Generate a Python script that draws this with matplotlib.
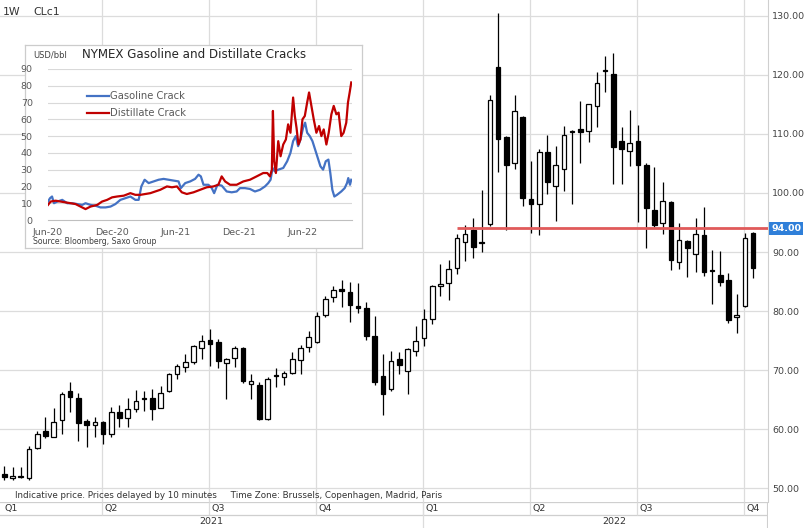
import matplotlib
matplotlib.use('Agg')
import matplotlib.pyplot as plt
import matplotlib.transforms as mtransforms
from matplotlib.lines import Line2D
import numpy as np

# ---------------- data: weekly CLc1 candles (Jan 2021 - Oct 2022) ----------------
opens = [52.4, 51.7, 51.8, 51.7, 56.8, 59.7, 58.7, 61.6, 66.5, 65.3,
         61.4, 60.7, 61.2, 59.1, 62.8, 61.9, 63.4, 65.3, 65.3, 63.6,
         66.4, 69.3, 70.5, 71.4, 73.8, 75.1, 74.7, 71.2, 72.0, 73.8,
         67.6, 67.5, 61.7, 69.2, 68.8, 69.5, 71.7, 73.9, 74.8, 79.4,
         82.3, 83.8, 83.3, 80.9, 80.5, 75.7, 69.0, 66.7, 71.9, 69.8,
         73.3, 75.4, 78.7, 84.2, 84.8, 87.3, 91.7, 93.8, 91.7, 94.8,
         121.4, 109.5, 105.0, 112.8, 98.9, 98.2, 106.9, 101.2, 104.0, 110.3,
         110.9, 110.5, 114.8, 120.8, 120.2, 108.8, 107.2, 108.8, 104.8, 97.2,
         94.9, 98.4, 88.3, 91.8, 89.6, 92.8, 86.9, 86.1, 85.2, 78.9,
         80.8, 93.3]
highs = [53.8, 53.6, 53.5, 57.2, 59.7, 62.1, 63.6, 66.2, 67.9, 66.1,
         61.7, 62.1, 61.3, 63.8, 64.1, 65.3, 66.6, 66.5, 66.8, 67.3,
         69.5, 71.0, 72.7, 74.3, 76.0, 76.9, 75.3, 72.0, 74.1, 73.9,
         69.3, 67.9, 68.8, 70.4, 69.9, 73.0, 74.3, 76.6, 79.9, 82.5,
         84.2, 85.3, 84.9, 84.8, 81.6, 79.1, 72.7, 73.3, 73.0, 73.8,
         77.4, 80.4, 84.4, 87.9, 88.7, 93.1, 94.5, 95.7, 100.5, 116.6,
         130.5, 109.6, 116.6, 113.0, 105.5, 107.5, 109.8, 108.0, 111.3, 110.6,
         115.6, 115.1, 120.5, 123.2, 123.8, 111.2, 114.0, 111.5, 105.0, 104.4,
         101.9, 98.6, 95.0, 92.0, 95.7, 97.6, 90.3, 90.1, 86.5, 82.8,
         93.2, 93.4]
lows = [51.3, 51.3, 51.7, 51.4, 56.6, 58.4, 58.6, 59.1, 62.9, 58.0,
        57.0, 58.7, 57.5, 58.6, 60.4, 60.4, 62.8, 63.1, 61.5, 63.5,
        66.2, 68.4, 69.6, 71.1, 71.8, 70.6, 70.4, 65.1, 70.5, 67.8,
        65.1, 61.5, 61.5, 67.1, 67.4, 69.4, 69.4, 73.0, 74.6, 79.0,
        81.5, 80.6, 78.1, 79.6, 75.1, 67.4, 62.4, 66.5, 69.3, 66.0,
        72.4, 74.1, 77.8, 82.6, 81.8, 86.2, 88.4, 89.0, 90.0, 94.4,
        103.6, 93.7, 104.1, 97.8, 93.3, 92.9, 99.9, 95.3, 100.3, 98.2,
        105.1, 108.7, 111.2, 117.1, 101.6, 101.6, 104.6, 95.1, 90.6, 94.2,
        93.1, 86.9, 87.2, 85.7, 86.6, 86.0, 81.2, 84.2, 77.9, 76.2,
        80.6, 85.6]
closes = [51.9, 52.1, 51.9, 56.6, 59.2, 58.9, 61.2, 65.9, 65.4, 61.1,
          60.7, 61.2, 59.1, 62.9, 61.9, 63.4, 64.8, 65.1, 63.4, 66.1,
          69.3, 70.7, 71.4, 74.0, 74.9, 74.4, 71.5, 71.9, 73.8, 68.1,
          68.1, 61.7, 68.5, 69.0, 69.5, 71.8, 73.8, 75.6, 79.2, 82.1,
          83.6, 83.4, 81.1, 80.5, 75.7, 67.9, 66.0, 71.5, 70.8, 73.6,
          75.0, 78.7, 84.2, 84.6, 87.2, 92.3, 93.0, 90.9, 91.5, 115.7,
          109.2, 104.7, 113.9, 99.2, 98.1, 106.9, 101.9, 104.7, 109.8, 110.5,
          110.3, 115.0, 118.7, 120.6, 107.8, 107.5, 108.4, 104.7, 97.5, 94.5,
          98.6, 88.7, 92.0, 90.6, 93.0, 86.6, 86.7, 84.9, 78.4, 79.4,
          92.4, 87.3]

quarter_start_week = [-1, 12, 25, 38, 51, 64, 77, 90]
quarter_labels = ['Q1', 'Q2', 'Q3', 'Q4', 'Q1', 'Q2', 'Q3', 'Q4']
year_labels = ['2021', '2022']
year_start_week = [-1, 51]
price_ticks = [50, 60, 70, 80, 90, 100, 110, 120, 130]
ref_level = 94.0
ref_start_week = 55
symbol_text = ['1W', 'CLc1']
footer_text = 'Indicative price. Prices delayed by 10 minutes     Time Zone: Brussels, Copenhagen, Madrid, Paris'

# ---------------- data: inset (NYMEX cracks, months since Jun-2020) ----------------
dist_months = [0.00, 0.25, 0.72, 1.19, 1.66, 2.13, 2.59, 3.06, 3.53, 4.00,
               4.63, 5.09, 5.56, 6.03, 6.50, 7.13, 7.75, 8.22, 8.69, 9.16,
               9.63, 10.09, 10.56, 11.19, 11.66, 12.13, 12.59, 13.06, 13.69, 14.31,
               14.94, 15.56, 16.03, 16.34, 16.66, 17.13, 17.75, 18.38, 19.00, 19.63,
               20.25, 20.63, 20.88, 21.06, 21.16, 21.28, 21.44, 21.66, 21.88, 22.13,
               22.38, 22.59, 22.81, 23.06, 23.22, 23.38, 23.56, 23.75, 23.94, 24.16,
               24.38, 24.56, 24.78, 25.00, 25.25, 25.50, 25.72, 25.94, 26.19, 26.41,
               26.66, 26.88, 27.13, 27.34, 27.59, 27.81, 28.06, 28.22, 28.38, 28.53]
dist_crack = [9, 11, 11.5, 11, 10.5, 10, 9.5, 8, 6.5, 8,
              9, 11, 12, 13.5, 14, 14.5, 16, 15, 15, 15.5,
              16, 17, 18, 20, 19.5, 20, 16.5, 15.5, 16.5, 18,
              19.5, 20, 21, 26, 23, 21, 21, 23, 24, 26,
              28, 28, 26, 30, 65, 35, 28, 47, 38, 45,
              48, 57, 52, 73, 62, 55, 45, 48, 60, 62,
              70, 76, 68, 60, 52, 56, 50, 54, 45, 52,
              63, 68, 63, 64, 50, 52, 58, 70, 76, 82]
gas_months = [0.00, 0.19, 0.38, 0.56, 0.88, 1.34, 1.81, 2.28, 2.75, 3.22,
              3.53, 4.00, 4.47, 4.94, 5.41, 5.88, 6.34, 6.81, 7.28, 7.75,
              8.22, 8.53, 8.78, 9.09, 9.47, 9.94, 10.41, 10.88, 11.34, 11.81,
              12.28, 12.50, 12.91, 13.38, 13.84, 14.16, 14.38, 14.63, 15.09, 15.41,
              15.63, 15.94, 16.34, 16.81, 17.28, 17.75, 18.06, 18.53, 19.00, 19.47,
              19.94, 20.41, 20.72, 20.94, 21.13, 21.34, 21.66, 22.13, 22.50, 22.81,
              23.06, 23.31, 23.53, 23.75, 24.00, 24.19, 24.38, 24.63, 24.88, 25.13,
              25.38, 25.63, 25.88, 26.13, 26.38, 26.56, 26.75, 26.94, 27.19, 27.59,
              27.91, 28.13, 28.25, 28.41, 28.53]
gas_crack = [11, 13, 14, 10, 11, 12, 10, 10, 9.5, 9,
             10, 9, 8.5, 7.5, 7.5, 8, 9.5, 12, 13, 14,
             12, 12, 20, 24, 22, 23, 24, 24.5, 24, 23.5,
             23, 19, 22, 23, 24.5, 27, 26, 21, 21, 19,
             16, 21, 20.5, 17, 16.5, 17, 19, 19, 18.5, 17,
             18, 20, 22, 24, 31, 29, 30, 31, 35, 40,
             47, 50, 44, 48, 55, 58, 52, 50, 47, 42,
             37, 32, 30, 35, 36, 28, 18, 14, 15, 17,
             19, 22, 25, 21, 24]
inset_month_ticks = [0, 6, 12, 18, 24]
inset_month_labels = ['Jun-20', 'Dec-20', 'Jun-21', 'Dec-21', 'Jun-22']
inset_value_ticks = [0, 10, 20, 30, 40, 50, 60, 70, 80, 90]
inset_title = 'NYMEX Gasoline and Distillate Cracks'
inset_unit = 'USD/bbl'
inset_source = 'Source: Bloomberg, Saxo Group'
series_names = ['Gasoline Crack', 'Distillate Crack']

# ---------------- layout ----------------
W, H, DPI = 806, 528, 100
GRID = '#dcdcdc'
TXT = '#444444'
plt.rcParams['font.family'] = ['DejaVu Sans']

fig = plt.figure(figsize=(W / DPI, H / DPI), dpi=DPI)
fig.patch.set_facecolor('white')


def rect(x0, y0, x1, y1):
    return [x0 / W, 1 - y1 / H, (x1 - x0) / W, (y1 - y0) / H]


ax = fig.add_axes(rect(0, 0, 768, 502))
ax.set_facecolor('white')
ax.set_xlim(-0.52, 92.8)
ax.set_ylim(47.63, 132.71)

n = len(opens)
x = np.arange(n)
o = np.array(opens); c = np.array(closes); hi = np.array(highs); lo = np.array(lows)

# grid
for v in price_ticks:
    ax.axhline(v, color=GRID, lw=0.9, zorder=0)
q_pos = np.array(quarter_start_week) - 0.13
for q in q_pos[1:]:
    ax.axvline(q, color=GRID, lw=0.9, zorder=0)

# wicks
ax.vlines(x, lo, hi, color='black', lw=0.9, zorder=2)
# bodies
up = c >= o
bottom = np.minimum(o, c)
height = np.maximum(np.abs(c - o), 0.18)
ax.bar(x[up], height[up], bottom=bottom[up], width=0.56, facecolor='white',
       edgecolor='black', linewidth=0.9, zorder=3)
ax.bar(x[~up], height[~up], bottom=bottom[~up], width=0.56, facecolor='black',
       edgecolor='black', linewidth=0.9, zorder=3)

# reference line
ax.hlines(ref_level, ref_start_week, 92.8, color='#e05a5a', lw=2.0, zorder=4)

# axis on right
ax.yaxis.tick_right()
ax.set_yticks(price_ticks)
ax.set_yticklabels([f'{v:.2f}' for v in price_ticks])
ax.tick_params(axis='y', length=0, pad=3, labelsize=6.8, labelcolor=TXT)
ax.set_xticks([])
for s in ['top', 'left', 'bottom']:
    ax.spines[s].set_visible(False)
ax.spines['right'].set_color('#cfcfcf')

trans = mtransforms.blended_transform_factory(ax.transAxes, ax.transData)
ax.text(1.004, ref_level, f'{ref_level:.2f}', transform=trans, ha='left', va='center',
        fontsize=6.8, color='white', fontweight='bold', zorder=6,
        bbox=dict(boxstyle='square,pad=0.25', facecolor='#2f7fd9', edgecolor='none'))

# footer inside plot
ax.text(15 / 768, (502 - 496) / 502, footer_text, transform=ax.transAxes, ha='left',
        va='center', fontsize=6.35, color='#333333')

# symbol label
fig.text(3 / W, 1 - 12 / H, symbol_text[0], ha='left', va='center', fontsize=7.8, color='#333333')
fig.text(33 / W, 1 - 12 / H, symbol_text[1], ha='left', va='center', fontsize=7.8, color='#333333')

# bottom band: quarters and years
axb = fig.add_axes(rect(0, 502, 768, 528))
axb.set_xlim(ax.get_xlim())
axb.set_ylim(0, 26)
axb.axis('off')
axb.axhline(26, color='#cfcfcf', lw=0.9)
axb.axhline(13, color='#cfcfcf', lw=0.9)
axb.axvline(axb.get_xlim()[1], color='#cfcfcf', lw=1.5)
for q, lab in zip(q_pos, quarter_labels):
    axb.vlines(q, 13, 26, color=GRID, lw=0.9)
    axb.text(max(q + 0.3, 0.0), 19.5, lab, ha='left', va='center', fontsize=6.8, color='#333333')
ysep = q_pos[quarter_start_week.index(year_start_week[1])]
axb.vlines(ysep, 0, 26, color=GRID, lw=0.9)
fig.text(211 / W, 1 - 522 / H, year_labels[0], ha='center', va='center', fontsize=6.8, color='#333333')
fig.text(614 / W, 1 - 522 / H, year_labels[1], ha='center', va='center', fontsize=6.8, color='#333333')

# ---------------- inset ----------------
axbox = fig.add_axes(rect(25, 45, 362, 248), zorder=5)
axbox.set_facecolor('white')
axbox.set_xticks([]); axbox.set_yticks([])
for s in axbox.spines.values():
    s.set_color('#cccccc'); s.set_linewidth(0.9)

axi = fig.add_axes(rect(48, 69, 352, 220), zorder=6)
axi.set_facecolor('none')
axi.set_xlim(0, 28.6)
axi.set_ylim(0, 90)
for v in inset_value_ticks[1:]:
    axi.axhline(v, color='#d9d9d9', lw=0.8, zorder=0)
axi.plot(gas_months, gas_crack, color='#4472c4', lw=1.6, label=series_names[0], zorder=2)
axi.plot(dist_months, dist_crack, color='#c00000', lw=1.6, label=series_names[1], zorder=3)
axi.set_xticks(inset_month_ticks)
axi.set_xticklabels(inset_month_labels)
axi.set_yticks(inset_value_ticks)
axi.tick_params(axis='both', length=0, labelsize=6.8, labelcolor='#595959')
axi.tick_params(axis='y', pad=11)
axi.tick_params(axis='x', pad=6)
for s in ['top', 'left', 'right']:
    axi.spines[s].set_visible(False)
axi.spines['bottom'].set_color('#bfbfbf')

handles = [Line2D([0], [0], color='#4472c4', lw=1.6), Line2D([0], [0], color='#c00000', lw=1.6)]
leg = axi.legend(handles, series_names, loc='upper left', frameon=False,
                 bbox_to_anchor=(87 / W, 1 - 91 / H), bbox_transform=fig.transFigure,
                 fontsize=7.2, handlelength=2.2, handletextpad=0.15, labelspacing=0.75,
                 borderpad=0, borderaxespad=0)
for t in leg.get_texts():
    t.set_color('#595959')

fig.text(82 / W, 1 - 54 / H, inset_title, ha='left', va='center', fontsize=8.6,
         color='#262626', zorder=7)
fig.text(33 / W, 1 - 55 / H, inset_unit, ha='left', va='center', fontsize=6.0,
         color='#404040', zorder=7)
fig.text(33 / W, 1 - 242 / H, inset_source, ha='left', va='center', fontsize=5.6,
         color='#404040', zorder=7)

fig.savefig('out.png', dpi=DPI, facecolor='white')
